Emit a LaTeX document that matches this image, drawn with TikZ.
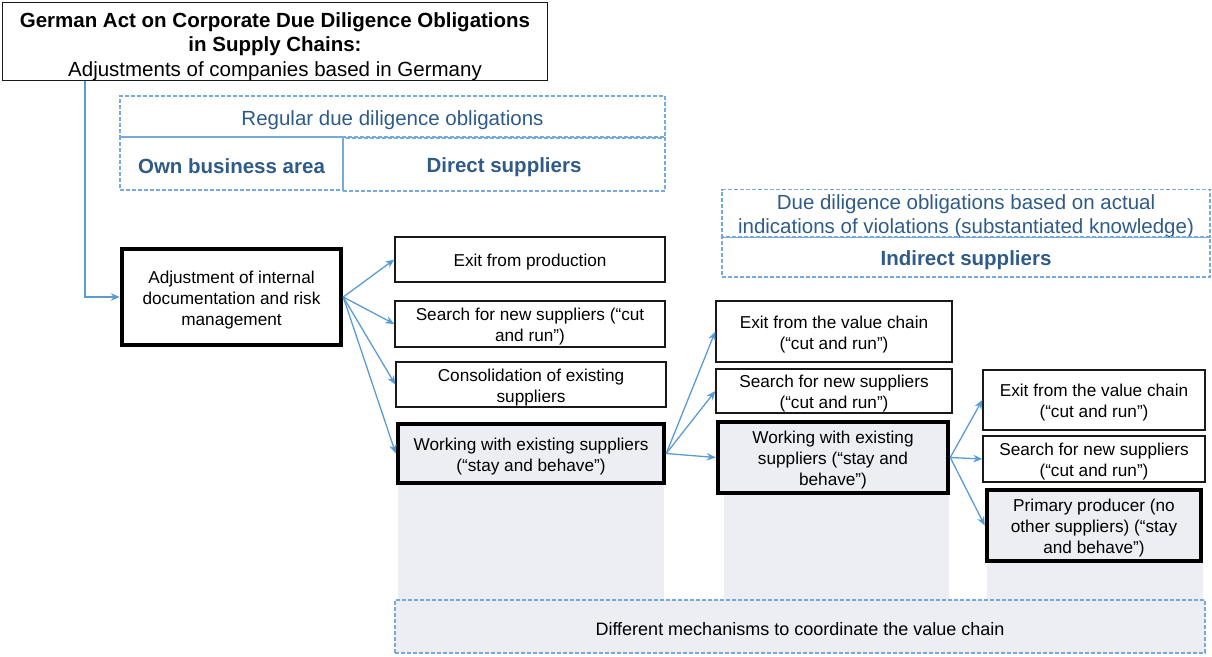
\documentclass[tikz,border=0pt]{standalone}
\usepackage{fontspec}
\setmainfont{Liberation Sans}
\usetikzlibrary{arrows.meta}
\definecolor{linkblue}{HTML}{5B9BD5}
\definecolor{dashblue}{HTML}{76AADC}
\definecolor{headblue}{HTML}{2E5B88}
\definecolor{paleblue}{HTML}{ECEEF3}
% strut that lowers the text block a little inside its frame
\newcommand\toppad[1]{\rule{0pt}{#1em}}
\begin{document}
\begin{tikzpicture}[x=1pt,y=-1pt,
  box/.style={draw=black!90, line width=1.4pt, align=center, inner sep=0pt,
    font=\fontsize{17.2}{21}\selectfont},
  thickbox/.style={box, draw=black, line width=4.5pt},
  keybox/.style={thickbox, fill=paleblue},
  dashbox/.style={draw=dashblue, dash pattern=on 4pt off 2pt, line width=1.4pt,
    align=center, inner sep=0pt, text=headblue,
    font=\fontsize{20.5}{24}\selectfont},
  dashhead/.style={dashbox, font=\fontsize{20.5}{24}\selectfont\bfseries},
  link/.style={draw=linkblue, line width=1.3pt, -{Stealth[length=9pt,width=7.5pt]}}]
\useasboundingbox (0,0) rectangle (1212,656);

% shaded columns beneath the coordination boxes
\fill[paleblue] (398,485) rectangle (664,600);
\fill[paleblue] (724,495) rectangle (949,600);
\fill[paleblue] (987,563) rectangle (1203,600);

% title
\node[box, line width=1.6pt, minimum width=545pt, minimum height=78pt,
  font=\fontsize{20.5}{24.5}\selectfont] (title) at (275,41.5)
  {\toppad{1.2}\textbf{German Act on Corporate Due Diligence Obligations}\\
   \textbf{in Supply Chains:}\\
   Adjustments of companies based in Germany};

% obligation headers
\node[dashbox, minimum width=545pt, minimum height=41pt] (regular) at (392.5,116.5)
  {\toppad{1.05}Regular due diligence obligations};
\node[dashhead, minimum width=223pt, minimum height=53pt] (own) at (231.5,163.5)
  {\toppad{0.95}Own business area};
\node[dashhead, minimum width=322pt, minimum height=53pt] (direct) at (504,164.5)
  {\toppad{0.95}Direct suppliers};
\node[dashbox, minimum width=488pt, minimum height=47pt] (actual) at (966,213.5)
  {\toppad{0.95}Due diligence obligations based on actual\\
   indications of violations (substantiated knowledge)};
\node[dashhead, minimum width=488pt, minimum height=40pt] (indirect) at (966,257)
  {\toppad{1.0}Indirect suppliers};

% adjustment boxes
\node[thickbox, minimum width=219pt, minimum height=96pt] (adj) at (231.5,297)
  {\toppad{1.05}Adjustment of internal\\documentation and risk\\management};
\node[box, minimum width=270pt, minimum height=45pt] (exitp) at (530,259.5)
  {\toppad{1.05}Exit from production};
\node[box, minimum width=270pt, minimum height=46pt] (search1) at (530,324)
  {\toppad{1.05}Search for new suppliers (“cut\\and run”)};
\node[box, minimum width=270pt, minimum height=45pt] (cons) at (531,384.5)
  {\toppad{1.05}Consolidation of existing\\suppliers};
\node[keybox, minimum width=266pt, minimum height=59pt] (work1) at (531,453.5)
  {\toppad{1.05}Working with existing suppliers\\(“stay and behave”)};

\node[box, minimum width=236pt, minimum height=61pt] (exit2) at (834,331.5)
  {\toppad{1.05}Exit from the value chain\\(“cut and run”)};
\node[box, minimum width=236pt, minimum height=44pt] (search2) at (834,391)
  {\toppad{1.05}Search for new suppliers\\(“cut and run”)};
\node[keybox, minimum width=230pt, minimum height=71pt] (work2) at (833,457.5)
  {\toppad{1.05}Working with existing\\suppliers (“stay and\\behave”)};

\node[box, minimum width=222pt, minimum height=60pt] (exit3) at (1094,400)
  {\toppad{1.05}Exit from the value chain\\(“cut and run”)};
\node[box, minimum width=222pt, minimum height=46pt] (search3) at (1094,459)
  {\toppad{1.05}Search for new suppliers\\(“cut and run”)};
\node[keybox, minimum width=214pt, minimum height=71pt] (prim) at (1094,525.5)
  {\toppad{1.05}Primary producer (no\\other suppliers) (“stay\\and behave”)};

% coordination footer
\node[dashbox, text=black, fill=paleblue, minimum width=810pt, minimum height=53pt,
  font=\fontsize{18}{22}\selectfont] (mech) at (800,626.5)
  {\toppad{1.05}Different mechanisms to coordinate the value chain};

% connectors
\coordinate (tap) at (85,81);
\draw[link] (tap) |- (adj.west);
\foreach \t in {exitp,search1,cons,work1}
  \draw[link] (adj.east) -- (\t.west);
\foreach \t in {exit2,search2,work2}
  \draw[link] (work1.east) -- (\t.west);
\foreach \t in {exit3,search3,prim}
  \draw[link] (work2.east) -- (\t.west);
\end{tikzpicture}
\end{document}
